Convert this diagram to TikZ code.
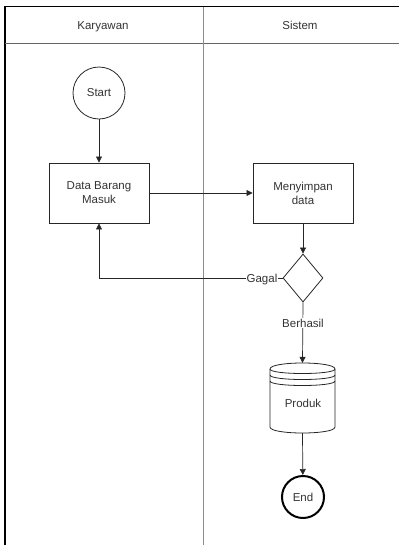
\documentclass[tikz,border=0pt]{standalone}
\usepackage{fontspec}
\setmainfont{Liberation Sans}
\usetikzlibrary{arrows.meta,shapes.geometric}
\begin{document}
\begin{tikzpicture}[x=1pt,y=-1pt,
  every node/.style={font=\fontsize{11.5}{14}\selectfont, text=black!80},
  proc/.style={draw=black!85, line width=0.9pt, minimum width=100pt, minimum height=60pt, align=center, inner sep=0pt},
  term/.style={draw=black!85, circle, line width=0.8pt, minimum size=52pt, inner sep=0pt},
  endterm/.style={draw=black, circle, line width=2pt, minimum size=42pt, inner sep=0pt},
  flow/.style={draw=black!85, line width=0.7pt, -{Triangle[length=6pt,width=6pt]}},
  lbl/.style={fill=white, inner sep=1pt},
  lane/.style={draw=black!45, line width=1pt}
]
\useasboundingbox (0,0) rectangle (399,547);
% swimlanes
\draw[line width=1.2pt, black] (5,545) -- (5,6.5) -- (399,6.5);
\draw[lane, black!60] (5,43) -- (399,43);
\draw[lane] (203,6.5) -- (203,545);
\node[anchor=base] (k) at (103,29) {Karyawan};
\node[anchor=base] (s) at (300,29) {Sistem};
% nodes
\node[term] (start) at (99,93) {Start};
\node[proc] (dbm) at (99,193) {Data Barang\\Masuk};
\node[proc] (ms) at (303,193) {Menyimpan\\data};
\node[draw=black!85, diamond, line width=0.8pt, minimum width=40pt, minimum height=48pt, inner sep=0pt] (d) at (303,278) {};
% datastore
\begin{scope}[shift={(270,363)}]
  \def\w{65}\def\h{70}\def\dy{6}
  \draw[black!85, line width=0.8pt] (0,\dy) .. controls (0,-\dy/3) and (\w,-\dy/3) .. (\w,\dy) -- (\w,\h-\dy) .. controls (\w,\h+\dy/3) and (0,\h+\dy/3) .. (0,\h-\dy) -- cycle;
  \draw[black!85, line width=0.8pt] (0,\dy) .. controls (0,2*\dy) and (\w,2*\dy) .. (\w,\dy);
  \draw[black!85, line width=0.8pt] (0,2*\dy) .. controls (0,3*\dy) and (\w,3*\dy) .. (\w,2*\dy);
  \draw[black!85, line width=0.8pt] (0,3*\dy) .. controls (0,4*\dy) and (\w,4*\dy) .. (\w,3*\dy);
\end{scope}
\node[minimum width=65pt, minimum height=70pt, inner sep=0pt] (prod) at (302.5,398) {};
\node (prodt) at (303,403) {Produk};
\node[endterm] (end) at (303,497) {End};
% connectors
\draw[flow] (start) -- (dbm);
\draw[flow] (dbm) -- (ms);
\draw[flow] (ms) -- (d);
\draw[flow] (d.west) -| (dbm.south);
\draw[flow] (d.south) -- (prod.north);
\draw[flow] (prod.south) -- (end);
\node[lbl, anchor=base] (g) at (262,282) {Gagal};
\node[lbl, anchor=base] (b) at (303,327) {Berhasil};
\end{tikzpicture}
\end{document}
